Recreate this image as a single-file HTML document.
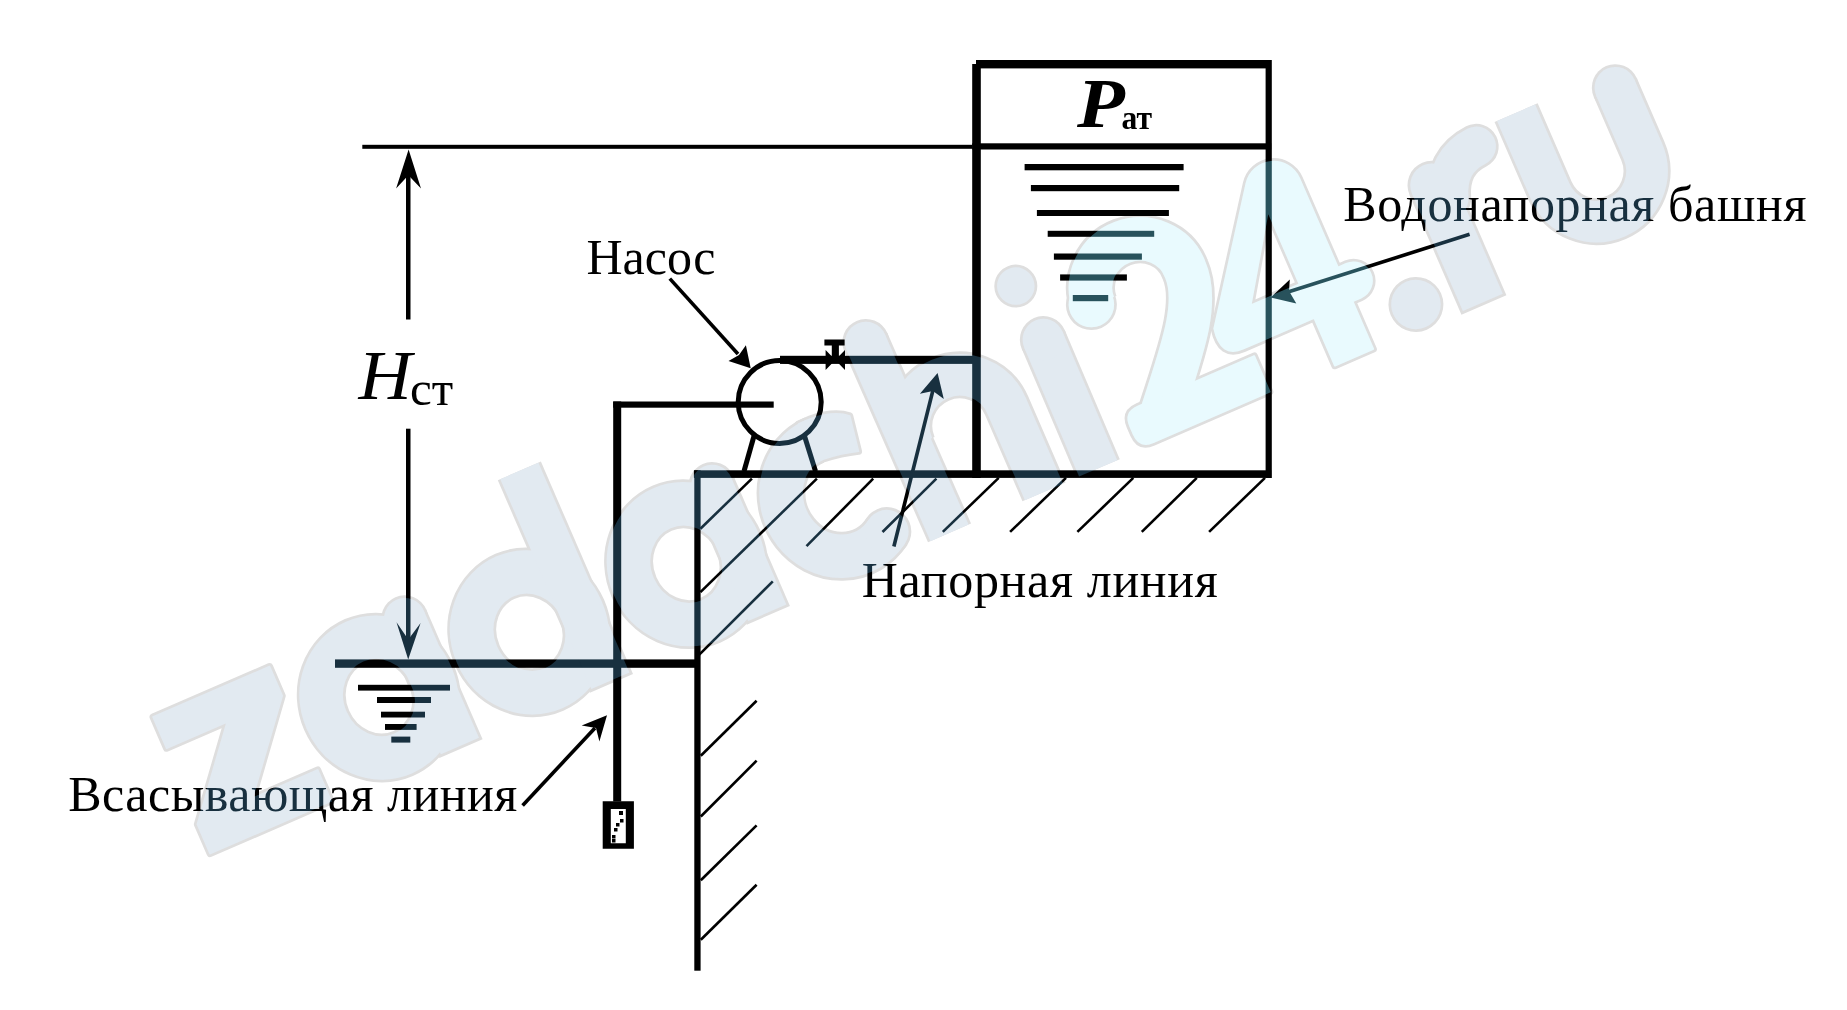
<!DOCTYPE html>
<html><head><meta charset="utf-8">
<style>
html,body{margin:0;padding:0;background:#fff;}
body{width:1847px;height:1010px;overflow:hidden;position:relative;}
svg{position:absolute;left:0;top:0;}
.t{font-family:"Liberation Serif",serif;fill:#000;}
</style></head>
<body>
<svg width="1847" height="1010" viewBox="0 0 1847 1010">
<rect x="0" y="0" width="1847" height="1010" fill="#fff"/>
<g fill="#000" stroke="none">
  <!-- tank -->
  <rect x="976" y="60" width="295" height="8.4"/>
  <rect x="972.2" y="64" width="8.6" height="414"/>
  <rect x="1265.6" y="60" width="6.2" height="418"/>
  <rect x="972.2" y="143.3" width="299" height="6.2"/>
  <!-- tank water lines -->
  <rect x="1024.6" y="164" width="159" height="6.3"/>
  <rect x="1030.9" y="185" width="148.3" height="6.2"/>
  <rect x="1036.9" y="210" width="132" height="6"/>
  <rect x="1047.7" y="230.8" width="106.5" height="6"/>
  <rect x="1053.9" y="253.5" width="88" height="6.2"/>
  <rect x="1060.1" y="274.4" width="66.8" height="6.2"/>
  <rect x="1072.8" y="295" width="35.4" height="6.2"/>
  <!-- thin level line -->
  <rect x="362.3" y="144.8" width="610" height="4"/>
  <!-- dimension line -->
  <rect x="406" y="170" width="4.5" height="149.5"/>
  <rect x="406" y="428.7" width="4.5" height="212"/>
  <path d="M408.6 149.4 L421 188.6 L408.4 175.2 L396.1 188.6 Z"/>
  <path d="M408.2 659.4 L420.6 623 L408.3 639.6 L396.5 622.2 Z"/>
  <!-- water level line -->
  <rect x="335" y="659.4" width="362" height="8.4"/>
  <rect x="358" y="684.8" width="92" height="5.8"/>
  <rect x="377" y="697" width="54" height="6"/>
  <rect x="381" y="711.7" width="44" height="5.8"/>
  <rect x="385" y="724" width="31.6" height="5.9"/>
  <rect x="391.3" y="736.6" width="19" height="6"/>
  <!-- suction pipe -->
  <rect x="613.2" y="401.5" width="8" height="400"/>
  <rect x="613.2" y="401.5" width="160.5" height="6.2"/>
  <!-- strainer -->
  <path fill-rule="evenodd" d="M602.7 801.2 H633.9 V848.7 H602.7 Z M610.8 809 V843.3 H625.8 V809 Z"/>
  <rect x="619" y="811" width="4" height="4"/><rect x="620" y="819" width="3.5" height="3.5"/><rect x="616" y="823" width="3.5" height="3.5"/><rect x="614" y="828" width="3.5" height="3.5"/><rect x="612" y="835" width="3.5" height="3.5"/><rect x="612" y="839" width="3.5" height="3.5"/>
  <!-- ground -->
  <rect x="693.9" y="470.3" width="577.3" height="7.6"/>
  <rect x="694.3" y="470.3" width="6.3" height="500.4"/>
  <!-- pressure pipe -->
  <rect x="780" y="355.8" width="200" height="8.1"/>
  <!-- valve -->
  <path d="M825.6 350 L845 370 L845 350 L825.6 370 Z"/>
  <rect x="824.4" y="339.5" width="20.2" height="6"/>
  <rect x="831.8" y="345" width="7.1" height="14"/>
</g>
<g stroke="#000" fill="none">
  <circle cx="779.7" cy="402" r="41.5" stroke-width="5"/>
  <line x1="754" y1="436" x2="744" y2="471.3" stroke-width="5"/>
  <line x1="804.5" y1="436" x2="815.5" y2="471.3" stroke-width="5"/>
</g>
<g stroke="#000" stroke-width="2.6" fill="none">
  <line x1="700.4" y1="528.8" x2="751.9" y2="478.6"/>
  <line x1="700.4" y1="592.1" x2="816.9" y2="478.6"/>
  <line x1="806.5" y1="546.2" x2="873.2" y2="478.6"/>
  <line x1="882.5" y1="532" x2="936.4" y2="478.6"/>
  <line x1="942.8" y1="531.9" x2="998.7" y2="477.9"/>
  <line x1="1010.1" y1="531.9" x2="1066" y2="477.9"/>
  <line x1="1077.4" y1="531.9" x2="1133.3" y2="477.9"/>
  <line x1="1141.8" y1="531.9" x2="1196.8" y2="477.9"/>
  <line x1="1209.1" y1="531.9" x2="1265" y2="477.9"/>
  <line x1="698.3" y1="655.7" x2="772.8" y2="581.3"/>
  <line x1="700.8" y1="755.7" x2="756.6" y2="700.8"/>
  <line x1="700.8" y1="816.5" x2="756.6" y2="760.7"/>
  <line x1="700.8" y1="880.3" x2="756.6" y2="825.4"/>
  <line x1="700.8" y1="939.7" x2="756.6" y2="884.7"/>
</g>
<!-- label arrows -->
<g stroke="#000" stroke-width="3.6" fill="none">
  <line x1="669.8" y1="278.6" x2="738" y2="354"/>
  <line x1="1469.6" y1="234.3" x2="1288" y2="292"/>
  <line x1="893.9" y1="546.5" x2="933" y2="390"/>
  <line x1="522.6" y1="805.4" x2="595" y2="728"/>
</g>
<g fill="#000">
  <path d="M750.7 368.2 L728.5 361 L739 355 L745.9 345.2 Z"/>
  <path d="M1270.7 297.4 L1289.8 279.6 L1289 291 L1296.3 303.4 Z"/>
  <path d="M937.6 372.9 L943.8 398.9 L933 391 L919.9 393.7 Z"/>
  <path d="M607 715.3 L599.4 741.4 L596 728 L581.7 725.4 Z"/>
</g>
<!-- labels -->
<text class="t" x="586.4" y="274.2" font-size="50">Насос</text>
<text class="t" x="1343.2" y="221.4" font-size="50" textLength="463.2" lengthAdjust="spacing">Водонапорная башня</text>
<text class="t" x="861.8" y="596.6" font-size="50" textLength="355.9" lengthAdjust="spacing">Напорная линия</text>
<text class="t" x="68.2" y="811.1" font-size="50" textLength="449" lengthAdjust="spacing">Всасывающая линия</text>
<text class="t" transform="translate(1077,127) scale(1.12,1)" font-size="70" font-weight="bold" font-style="italic">P</text>
<text class="t" transform="translate(1121.5,128.7) scale(0.96,1)" font-size="33" font-weight="bold">ат</text>
<text class="t" transform="translate(358.5,399) scale(1.06,1)" font-size="69.6" font-style="italic">H</text>
<text class="t" x="410" y="405" font-size="49">ст</text>

<g style="mix-blend-mode:multiply" transform="translate(200,858) rotate(-23.45)"><path d="M13,-148 H140 V-116 L72,-34 H143 V0 H11 V-32 L79,-114 H13 Z" fill="rgb(222,222,222)" fill-rule="evenodd" stroke="rgb(222,222,222)" stroke-width="7" stroke-linejoin="round"/><ellipse cx="228" cy="-76" rx="57" ry="61" fill="none" stroke="rgb(222,222,222)" stroke-width="49"/><line x1="283" y1="3.5" x2="283" y2="-138.0" stroke="rgb(222,222,222)" stroke-width="47"/><circle cx="283" cy="-138.0" r="23.5" fill="rgb(222,222,222)"/><ellipse cx="392" cy="-76" rx="57" ry="61" fill="none" stroke="rgb(222,222,222)" stroke-width="49"/><line x1="447" y1="3.5" x2="447" y2="-228" stroke="rgb(222,222,222)" stroke-width="47"/><ellipse cx="563" cy="-76" rx="57" ry="61" fill="none" stroke="rgb(222,222,222)" stroke-width="49"/><line x1="618" y1="3.5" x2="618" y2="-138.0" stroke="rgb(222,222,222)" stroke-width="47"/><circle cx="618" cy="-138.0" r="23.5" fill="rgb(222,222,222)"/><path d="M730,-139 A57,61 0 1,0 760,-26.1" fill="none" stroke="rgb(222,222,222)" stroke-width="49" stroke-linecap="butt" stroke-linejoin="round"/><circle cx="760" cy="-26.1" r="24.5" fill="rgb(222,222,222)"/><path d="M722,-160 L735,-160 Q760,-158 772,-147 L766,-111 Q750,-116 730,-118 L722,-118 Z" fill="rgb(222,222,222)" fill-rule="evenodd" stroke="rgb(222,222,222)" stroke-width="7" stroke-linejoin="round"/><path d="M817,0 L816,-208" fill="none" stroke="rgb(222,222,222)" stroke-width="47" stroke-linecap="butt" stroke-linejoin="round"/><circle cx="816" cy="-208" r="23.5" fill="rgb(222,222,222)"/><path d="M818,-94 A51,51 0 0,1 920,-94 V0" fill="none" stroke="rgb(222,222,222)" stroke-width="47" stroke-linecap="butt" stroke-linejoin="round"/><path d="M979,0 L980,-140" fill="none" stroke="rgb(222,222,222)" stroke-width="47" stroke-linecap="butt" stroke-linejoin="round"/><circle cx="980" cy="-140" r="23.5" fill="rgb(222,222,222)"/><circle cx="976" cy="-200" r="21.5" fill="rgb(222,222,222)"/><circle cx="1038" cy="-153" r="25.5" fill="rgb(222,222,222)"/><path d="M1040,-152 A48,47 0 0,1 1138,-148 C1138,-110 1100,-72 1058,-24" fill="none" stroke="rgb(222,222,222)" stroke-width="49" stroke-linecap="butt" stroke-linejoin="round"/><path d="M1040,-41 H1167 V-2 H1040 Q1025,-2 1025,-17 V-26 Q1025,-41 1040,-41 Z" fill="rgb(222,222,222)" fill-rule="evenodd" stroke="rgb(222,222,222)" stroke-width="7" stroke-linejoin="round"/><path d="M1237,0 H1279 V-52 H1288 A18.5,18.5 0 0,0 1288,-89 H1279 V-186 A28,28 0 0,0 1228.3,-202.4 L1141,-82 Q1135,-52 1160,-52 H1237 Z M1237,-168 V-89 H1184 Z" fill="rgb(222,222,222)" fill-rule="evenodd" stroke="rgb(222,222,222)" stroke-width="7" stroke-linejoin="round"/><circle cx="1335.8" cy="-24" r="27.5" fill="rgb(222,222,222)"/><line x1="1398" y1="3.5" x2="1398" y2="-127" stroke="rgb(222,222,222)" stroke-width="49"/><circle cx="1398" cy="-127" r="24.5" fill="rgb(222,222,222)"/><path d="M1408,-108 Q1420,-143 1454,-145" fill="none" stroke="rgb(222,222,222)" stroke-width="45" stroke-linecap="round" stroke-linejoin="round"/><path d="M1504,-160 V-74.5 A50.5,50.5 0 0,0 1605,-74.5 V-143.5" fill="none" stroke="rgb(222,222,222)" stroke-width="47" stroke-linecap="butt" stroke-linejoin="round"/><circle cx="1605" cy="-143.5" r="23.5" fill="rgb(222,222,222)"/><path d="M13,-148 H140 V-116 L72,-34 H143 V0 H11 V-32 L79,-114 H13 Z" fill="rgb(223,229,237)" fill-rule="evenodd" stroke="rgb(223,229,237)" stroke-width="1.5" stroke-linejoin="round"/><ellipse cx="228" cy="-76" rx="57" ry="61" fill="none" stroke="rgb(223,229,237)" stroke-width="43.5"/><line x1="283" y1="0.75" x2="283" y2="-138.0" stroke="rgb(223,229,237)" stroke-width="41.5"/><circle cx="283" cy="-138.0" r="20.75" fill="rgb(223,229,237)"/><ellipse cx="392" cy="-76" rx="57" ry="61" fill="none" stroke="rgb(223,229,237)" stroke-width="43.5"/><line x1="447" y1="0.75" x2="447" y2="-228" stroke="rgb(223,229,237)" stroke-width="41.5"/><ellipse cx="563" cy="-76" rx="57" ry="61" fill="none" stroke="rgb(223,229,237)" stroke-width="43.5"/><line x1="618" y1="0.75" x2="618" y2="-138.0" stroke="rgb(223,229,237)" stroke-width="41.5"/><circle cx="618" cy="-138.0" r="20.75" fill="rgb(223,229,237)"/><path d="M730,-139 A57,61 0 1,0 760,-26.1" fill="none" stroke="rgb(223,229,237)" stroke-width="43.5" stroke-linecap="butt" stroke-linejoin="round"/><circle cx="760" cy="-26.1" r="21.75" fill="rgb(223,229,237)"/><path d="M722,-160 L735,-160 Q760,-158 772,-147 L766,-111 Q750,-116 730,-118 L722,-118 Z" fill="rgb(223,229,237)" fill-rule="evenodd" stroke="rgb(223,229,237)" stroke-width="1.5" stroke-linejoin="round"/><path d="M817,0 L816,-208" fill="none" stroke="rgb(223,229,237)" stroke-width="41.5" stroke-linecap="butt" stroke-linejoin="round"/><circle cx="816" cy="-208" r="20.75" fill="rgb(223,229,237)"/><path d="M818,-94 A51,51 0 0,1 920,-94 V0" fill="none" stroke="rgb(223,229,237)" stroke-width="41.5" stroke-linecap="butt" stroke-linejoin="round"/><path d="M979,0 L980,-140" fill="none" stroke="rgb(223,229,237)" stroke-width="41.5" stroke-linecap="butt" stroke-linejoin="round"/><circle cx="980" cy="-140" r="20.75" fill="rgb(223,229,237)"/><circle cx="976" cy="-200" r="18.75" fill="rgb(223,229,237)"/><circle cx="1038" cy="-153" r="22.75" fill="rgb(229,248,253)"/><path d="M1040,-152 A48,47 0 0,1 1138,-148 C1138,-110 1100,-72 1058,-24" fill="none" stroke="rgb(229,248,253)" stroke-width="43.5" stroke-linecap="butt" stroke-linejoin="round"/><path d="M1040,-41 H1167 V-2 H1040 Q1025,-2 1025,-17 V-26 Q1025,-41 1040,-41 Z" fill="rgb(229,248,253)" fill-rule="evenodd" stroke="rgb(229,248,253)" stroke-width="1.5" stroke-linejoin="round"/><path d="M1237,0 H1279 V-52 H1288 A18.5,18.5 0 0,0 1288,-89 H1279 V-186 A28,28 0 0,0 1228.3,-202.4 L1141,-82 Q1135,-52 1160,-52 H1237 Z M1237,-168 V-89 H1184 Z" fill="rgb(229,248,253)" fill-rule="evenodd" stroke="rgb(229,248,253)" stroke-width="1.5" stroke-linejoin="round"/><circle cx="1335.8" cy="-24" r="24.75" fill="rgb(223,229,237)"/><line x1="1398" y1="0.75" x2="1398" y2="-127" stroke="rgb(223,229,237)" stroke-width="43.5"/><circle cx="1398" cy="-127" r="21.75" fill="rgb(223,229,237)"/><path d="M1408,-108 Q1420,-143 1454,-145" fill="none" stroke="rgb(223,229,237)" stroke-width="39.5" stroke-linecap="round" stroke-linejoin="round"/><path d="M1504,-160 V-74.5 A50.5,50.5 0 0,0 1605,-74.5 V-143.5" fill="none" stroke="rgb(223,229,237)" stroke-width="41.5" stroke-linecap="butt" stroke-linejoin="round"/><circle cx="1605" cy="-143.5" r="20.75" fill="rgb(223,229,237)"/></g>
<g style="mix-blend-mode:screen" transform="translate(200,858) rotate(-23.45)"><path d="M13,-148 H140 V-116 L72,-34 H143 V0 H11 V-32 L79,-114 H13 Z" fill="rgb(24,48,63)" fill-rule="evenodd" stroke="rgb(24,48,63)" stroke-width="1.5" stroke-linejoin="round"/><ellipse cx="228" cy="-76" rx="57" ry="61" fill="none" stroke="rgb(24,48,63)" stroke-width="43.5"/><line x1="283" y1="0.75" x2="283" y2="-138.0" stroke="rgb(24,48,63)" stroke-width="41.5"/><circle cx="283" cy="-138.0" r="20.75" fill="rgb(24,48,63)"/><ellipse cx="392" cy="-76" rx="57" ry="61" fill="none" stroke="rgb(24,48,63)" stroke-width="43.5"/><line x1="447" y1="0.75" x2="447" y2="-228" stroke="rgb(24,48,63)" stroke-width="41.5"/><ellipse cx="563" cy="-76" rx="57" ry="61" fill="none" stroke="rgb(24,48,63)" stroke-width="43.5"/><line x1="618" y1="0.75" x2="618" y2="-138.0" stroke="rgb(24,48,63)" stroke-width="41.5"/><circle cx="618" cy="-138.0" r="20.75" fill="rgb(24,48,63)"/><path d="M730,-139 A57,61 0 1,0 760,-26.1" fill="none" stroke="rgb(24,48,63)" stroke-width="43.5" stroke-linecap="butt" stroke-linejoin="round"/><circle cx="760" cy="-26.1" r="21.75" fill="rgb(24,48,63)"/><path d="M722,-160 L735,-160 Q760,-158 772,-147 L766,-111 Q750,-116 730,-118 L722,-118 Z" fill="rgb(24,48,63)" fill-rule="evenodd" stroke="rgb(24,48,63)" stroke-width="1.5" stroke-linejoin="round"/><path d="M817,0 L816,-208" fill="none" stroke="rgb(24,48,63)" stroke-width="41.5" stroke-linecap="butt" stroke-linejoin="round"/><circle cx="816" cy="-208" r="20.75" fill="rgb(24,48,63)"/><path d="M818,-94 A51,51 0 0,1 920,-94 V0" fill="none" stroke="rgb(24,48,63)" stroke-width="41.5" stroke-linecap="butt" stroke-linejoin="round"/><path d="M979,0 L980,-140" fill="none" stroke="rgb(24,48,63)" stroke-width="41.5" stroke-linecap="butt" stroke-linejoin="round"/><circle cx="980" cy="-140" r="20.75" fill="rgb(24,48,63)"/><circle cx="976" cy="-200" r="18.75" fill="rgb(24,48,63)"/><circle cx="1038" cy="-153" r="22.75" fill="rgb(40,82,92)"/><path d="M1040,-152 A48,47 0 0,1 1138,-148 C1138,-110 1100,-72 1058,-24" fill="none" stroke="rgb(40,82,92)" stroke-width="43.5" stroke-linecap="butt" stroke-linejoin="round"/><path d="M1040,-41 H1167 V-2 H1040 Q1025,-2 1025,-17 V-26 Q1025,-41 1040,-41 Z" fill="rgb(40,82,92)" fill-rule="evenodd" stroke="rgb(40,82,92)" stroke-width="1.5" stroke-linejoin="round"/><path d="M1237,0 H1279 V-52 H1288 A18.5,18.5 0 0,0 1288,-89 H1279 V-186 A28,28 0 0,0 1228.3,-202.4 L1141,-82 Q1135,-52 1160,-52 H1237 Z M1237,-168 V-89 H1184 Z" fill="rgb(40,82,92)" fill-rule="evenodd" stroke="rgb(40,82,92)" stroke-width="1.5" stroke-linejoin="round"/><circle cx="1335.8" cy="-24" r="24.75" fill="rgb(24,48,63)"/><line x1="1398" y1="0.75" x2="1398" y2="-127" stroke="rgb(24,48,63)" stroke-width="43.5"/><circle cx="1398" cy="-127" r="21.75" fill="rgb(24,48,63)"/><path d="M1408,-108 Q1420,-143 1454,-145" fill="none" stroke="rgb(24,48,63)" stroke-width="39.5" stroke-linecap="round" stroke-linejoin="round"/><path d="M1504,-160 V-74.5 A50.5,50.5 0 0,0 1605,-74.5 V-143.5" fill="none" stroke="rgb(24,48,63)" stroke-width="41.5" stroke-linecap="butt" stroke-linejoin="round"/><circle cx="1605" cy="-143.5" r="20.75" fill="rgb(24,48,63)"/></g>
</svg>
</body></html>
